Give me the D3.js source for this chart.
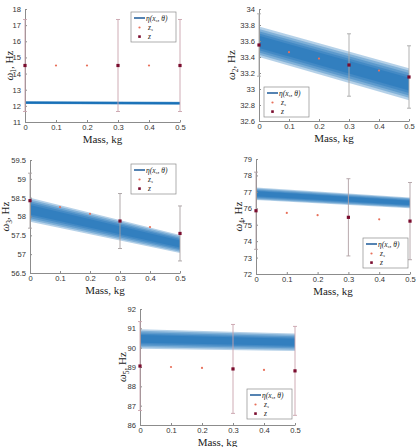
<!DOCTYPE html>
<html>
<head>
<meta charset="utf-8">
<script src="https://cdn.jsdelivr.net/npm/d3@7"></script>
<style>
  body { margin: 0; background: #fff; }
  svg { display: block; }
  .tick text { font-family: "Liberation Sans", Arial, sans-serif; font-size: 7.6px; fill: #333; }
  .lab { font-family: "Liberation Serif", "DejaVu Serif", serif; fill: #222; }
</style>
</head>
<body>
<svg id="chart" width="417" height="447"></svg>
<script>
const masses = [0, 0.1, 0.2, 0.3, 0.4, 0.5];
const obsMasses = [0, 0.3, 0.5];
const xTicks = [0, 0.1, 0.2, 0.3, 0.4, 0.5];

const modeNames = ["1", "2", "3", "4", "5"];
const yDomains = [[11, 18], [32.6, 34], [56.5, 59.5], [72, 79], [86, 92]];
const yTickSteps = [1, 0.2, 0.5, 1, 1];

// simulated points z_s at every mass
const zsValues = [
  [14.5, 14.5, 14.5, 14.5, 14.5, 14.5],
  [33.55, 33.46, 33.38, 33.30, 33.23, 33.15],
  [58.42, 58.25, 58.07, 57.88, 57.72, 57.55],
  [75.85, 75.72, 75.58, 75.45, 75.33, 75.22],
  [89.05, 89.0, 88.95, 88.9, 88.85, 88.8]
];
// observed z at 0, 0.3, 0.5 kg and error half-widths
const zValues = [
  [14.5, 14.5, 14.5],
  [33.55, 33.30, 33.15],
  [58.42, 57.88, 57.55],
  [75.85, 75.45, 75.22],
  [89.05, 88.9, 88.8]
];
const zErrors = [2.85, 0.39, 0.73, 2.35, 2.3];

// emulator band eta(x, theta): centre and half-width at 0 and 0.5 kg
const etaStart = [12.2, 33.59, 58.18, 76.88, 90.45];
const etaEnd = [12.16, 33.06, 57.27, 76.33, 90.28];
const halfStart = [0.09, 0.19, 0.32, 0.38, 0.5];
const halfEnd = [0.09, 0.2, 0.24, 0.33, 0.45];
const bandLevels = [1, 0.85, 0.7, 0.55, 0.4];

// layout: plot boxes and where the legend and y label go
const layout = [
  { x0: 25, x1: 180, y0: 9, y1: 122, leg: [131, 12], labX: 9, errColor: "#c9a3ad" },
  { x0: 259, x1: 409, y0: 9, y1: 121, leg: [264, 87], labX: 231, errColor: "#a8a8a8" },
  { x0: 30, x1: 180, y0: 160, y1: 273, leg: [131, 164], labX: 5, errColor: "#a8a0a2" },
  { x0: 256, x1: 410, y0: 159, y1: 274, leg: [363, 238], labX: 238, errColor: "#b0a0a4" },
  { x0: 140, x1: 295, y0: 309, y1: 425, leg: [247, 389], labX: 122, errColor: "#c9a3ad" }
];

const svg = d3.select("#chart");

modeNames.forEach((name, i) => {
  const L = layout[i];
  const g = svg.append("g");

  const xScale = d3.scaleLinear().domain([0, 0.5]).range([L.x0, L.x1]);
  const yScale = d3.scaleLinear().domain(yDomains[i]).range([L.y1, L.y0]);

  const [lo, hi] = yDomains[i];
  const step = yTickSteps[i];
  const yTicks = d3.range(Math.round((hi - lo) / step) + 1).map(k => +(lo + k * step).toFixed(2));

  // band
  bandLevels.forEach(f => {
    const area = d3.area()
      .x(d => xScale(d.m))
      .y0(d => yScale(d.c - d.h * f))
      .y1(d => yScale(d.c + d.h * f));
    g.append("path")
      .datum([{ m: 0, c: etaStart[i], h: halfStart[i] }, { m: 0.5, c: etaEnd[i], h: halfEnd[i] }])
      .attr("d", area)
      .attr("fill", "#0a68b4")
      .attr("fill-opacity", i === 0 ? 0.45 : 0.3);
  });

  // axes
  const xAxis = d3.axisBottom(xScale).tickValues(xTicks).tickSizeInner(-2).tickSizeOuter(0)
    .tickPadding(3).tickFormat(d => +d.toFixed(1));
  const yAxis = d3.axisLeft(yScale).tickValues(yTicks).tickSizeInner(-2).tickSizeOuter(0)
    .tickPadding(4).tickFormat(d => +d.toFixed(2));

  const gx = g.append("g").attr("transform", `translate(0,${L.y1})`).call(xAxis);
  const gy = g.append("g").attr("transform", `translate(${L.x0},0)`).call(yAxis);
  [gx, gy].forEach(a => {
    a.select(".domain").attr("stroke", "#8c8c8c");
    a.selectAll(".tick line").attr("stroke", "#8c8c8c");
  });

  // error bars
  const err = zErrors[i];
  obsMasses.forEach((m, k) => {
    const cx = xScale(m);
    const v = zValues[i][k];
    g.append("line").attr("x1", cx).attr("x2", cx)
      .attr("y1", yScale(v - err)).attr("y2", yScale(v + err))
      .attr("stroke", L.errColor).attr("stroke-width", 0.9);
    [v - err, v + err].forEach(e => {
      g.append("line").attr("x1", cx - 2).attr("x2", cx + 2)
        .attr("y1", yScale(e)).attr("y2", yScale(e))
        .attr("stroke", L.errColor).attr("stroke-width", 0.9);
    });
  });

  // z_s points
  g.selectAll(".zs").data(masses).enter().append("circle")
    .attr("cx", d => xScale(d))
    .attr("cy", (d, k) => yScale(zsValues[i][k]))
    .attr("r", 1.1)
    .attr("fill", "#e8705a");

  // z points
  g.selectAll(".z").data(obsMasses).enter().append("rect")
    .attr("x", d => xScale(d) - 1.6)
    .attr("y", (d, k) => yScale(zValues[i][k]) - 1.6)
    .attr("width", 3.2).attr("height", 3.2)
    .attr("fill", "#7a0c2e");

  // labels
  g.append("text").attr("class", "lab")
    .attr("x", (L.x0 + L.x1) / 2).attr("y", L.y1 + 21)
    .attr("text-anchor", "middle").attr("font-size", 11)
    .text("Mass, kg");

  const yl = g.append("text").attr("class", "lab")
    .attr("transform", `translate(${L.labX + 4},${(L.y0 + L.y1) / 2}) rotate(-90)`)
    .attr("text-anchor", "middle").attr("font-size", 11);
  yl.append("tspan").attr("font-style", "italic").text("ω");
  yl.append("tspan").attr("font-size", 7.5).attr("dy", 2.5).text(name);
  yl.append("tspan").attr("dy", -2.5).text(", Hz");

  // legend
  const [lx, ly] = L.leg;
  const lg = g.append("g").attr("transform", `translate(${lx},${ly})`);
  lg.append("rect").attr("width", 45).attr("height", 30)
    .attr("fill", "#fff").attr("stroke", "#8c8c8c").attr("stroke-width", 0.7);
  lg.append("line").attr("x1", 3).attr("x2", 14).attr("y1", 6).attr("y2", 6)
    .attr("stroke", "#1d5a98").attr("stroke-width", 1.5);
  const t1 = lg.append("text").attr("class", "lab").attr("x", 15).attr("y", 8.5)
    .attr("font-size", 7.5).attr("font-style", "italic");
  t1.append("tspan").text("η(x");
  t1.append("tspan").attr("font-size", 5).attr("dy", 1.5).text("s");
  t1.append("tspan").attr("dy", -1.5).text(", θ)");
  lg.append("circle").attr("cx", 8.5).attr("cy", 15.5).attr("r", 1.1).attr("fill", "#e8705a");
  const t2 = lg.append("text").attr("class", "lab").attr("x", 17).attr("y", 17.5)
    .attr("font-size", 7.5).attr("font-style", "italic");
  t2.append("tspan").text("z");
  t2.append("tspan").attr("font-size", 5).attr("dy", 1.5).text("s");
  lg.append("rect").attr("x", 7.2).attr("y", 23.3).attr("width", 2.6).attr("height", 2.6).attr("fill", "#7a0c2e");
  lg.append("text").attr("class", "lab").attr("x", 17).attr("y", 26.5)
    .attr("font-size", 7.5).attr("font-style", "italic").text("z");
});
</script>
</body>
</html>
